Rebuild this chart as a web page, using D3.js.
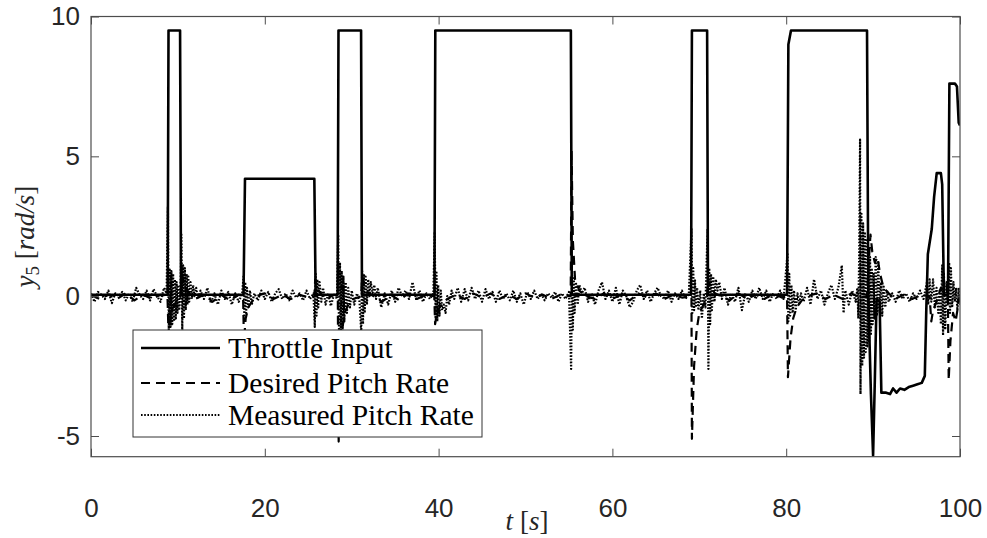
<!DOCTYPE html>
<html><head><meta charset="utf-8">
<script src="https://cdn.jsdelivr.net/npm/d3@7"></script>
<style>body{margin:0;background:#fff}svg{display:block}</style>
</head><body><svg id="c" width="987" height="538"></svg>
<script>
// [time s, value rad/s]
const throttleSeries = [[0,0.05],[8.82,0.05],[8.92,9.5],[10.25,9.5],[10.36,0.05],[17.55,0.05],[17.72,4.2],[25.7,4.2],[25.85,0.05],[28.38,0.05],[28.48,9.5],[31.08,9.5],[31.18,0.05],[39.52,0.05],[39.62,9.5],[55.22,9.5],[55.33,0.05],[69.05,0.05],[69.15,9.5],[70.9,9.5],[71.0,0.05],[80.1,0.05],[80.25,9.0],[80.55,9.5],[89.3,9.5],[89.45,0.0],[89.75,-3.5],[90.0,-5.7],[90.2,-3.0],[90.4,-0.1],[90.75,-0.2],[90.95,-3.45],[91.5,-3.45],[91.95,-3.5],[92.3,-3.3],[92.7,-3.45],[93.1,-3.3],[93.6,-3.35],[94.1,-3.25],[94.6,-3.2],[95.1,-3.15],[95.6,-3.1],[95.95,-2.85],[96.12,-0.5],[96.3,1.5],[96.75,2.4],[97.02,3.55],[97.32,4.4],[97.8,4.4],[97.95,4.0],[98.15,0.05],[98.62,0.05],[98.78,7.6],[99.42,7.6],[99.65,7.5],[99.85,6.2],[100,6.1]];

const desiredSeries = [[0,0.05],[1,-0.1],[2,0.05],[3,-0.1],[4,0.1],[5,-0.15],[6,0.05],[7,-0.1],[8,0.05],[8.8,0],[8.9,-1.1],[9.1,-0.9],[9.3,-0.5],[9.6,-0.3],[10.0,-0.15],[10.3,0],[10.4,0.9],[10.6,0.6],[10.9,0.3],[11.3,0.1],[12,-0.1],[13,0.05],[14,-0.2],[15,0.05],[16,-0.15],[17,0.05],[17.5,0],[17.6,-1.6],[17.8,-0.8],[18.1,-0.4],[18.5,-0.2],[19,0],[20,0.1],[21,-0.1],[22,0.05],[23,-0.1],[24,0.05],[25,-0.05],[25.7,0],[25.8,0.6],[26.0,0.3],[26.4,0.1],[27,-0.1],[28,0.05],[28.4,0],[28.5,-5.2],[28.7,-2.5],[28.9,-1.2],[29.2,-0.6],[29.6,-0.3],[30.2,-0.1],[31.1,0],[31.2,0.7],[31.4,0.4],[31.8,0.15],[32.5,0],[33.5,-0.2],[34.5,0.05],[35.5,-0.15],[36.5,0.1],[37.5,-0.1],[38.5,0.05],[39.5,0],[39.6,-1.0],[39.8,-0.6],[40.1,-0.4],[40.5,-0.25],[41,-0.1],[42,0.05],[43,-0.1],[44,0.1],[45,-0.05],[46,0.1],[47,-0.1],[48,0.05],[49,-0.1],[50,0.1],[51,-0.05],[52,0.05],[53,-0.1],[54,0.05],[55.2,0],[55.3,5.2],[55.45,2.0],[55.7,0.6],[56.2,0.2],[57,0],[58,-0.1],[59,0.1],[60,-0.1],[61,0.05],[62,-0.15],[63,0.1],[64,-0.05],[65,0.1],[66,-0.1],[67,0.05],[68,-0.05],[69.1,0],[69.15,-5.1],[69.4,-2.5],[69.7,-1.2],[70.0,-0.6],[70.5,-0.3],[70.9,0],[71.0,0.6],[71.3,0.3],[71.8,0.1],[72.5,0],[73.5,-0.15],[74.5,0.1],[75.5,-0.1],[76.5,0.05],[77.5,-0.1],[78.5,0.1],[79.5,-0.05],[80.1,0],[80.2,-2.9],[80.5,-1.5],[80.8,-0.8],[81.2,-0.4],[81.8,-0.15],[82.5,0],[83.5,0.1],[84.5,-0.1],[85.5,0.05],[86.5,-0.1],[87.5,0.1],[88.5,-0.05],[89.3,0],[89.45,1.0],[89.7,2.2],[89.9,1.6],[90.2,1.2],[90.5,1.4],[90.8,0.8],[91.2,0.3],[91.8,0.1],[92.5,-0.1],[93.5,0.05],[94.5,-0.1],[95.5,0.05],[96.5,0],[96.7,-0.9],[96.9,-0.5],[97.3,-0.2],[97.8,0.3],[98.2,0.1],[98.6,0],[98.7,-3.0],[98.9,-1.6],[99.2,-0.6],[99.5,-0.9],[99.8,-0.3],[100,0.1]];

const measuredSeries = [[0,0.1],[0.4,-0.2],[0.8,0.15],[1.2,0.05],[1.6,-0.1],[2.0,0.2],[2.4,-0.25],[2.8,0.1],[3.2,0],[3.6,0.15],[4.0,-0.15],[4.4,0.1],[4.8,-0.2],[5.2,0.3],[5.6,0.05],[6.0,-0.1],[6.4,0.2],[6.8,-0.15],[7.2,0.25],[7.6,0],[8.0,-0.2],[8.4,0.3],
[8.7,0.1],[8.85,3.2],[8.95,-1.2],[9.05,1.0],[9.15,-1.1],[9.25,0.9],[9.35,-1.0],[9.45,0.8],[9.55,-0.9],[9.65,0.6],[9.75,-0.8],[9.85,0.5],[9.95,-0.6],[10.05,0.4],[10.15,-0.5],[10.3,0.3],[10.4,2.2],[10.5,-1.2],[10.6,1.1],[10.7,-0.8],[10.8,1.0],[10.9,-0.5],[11.0,0.8],[11.1,-0.3],[11.2,0.7],[11.3,-0.2],[11.45,0.5],[11.6,-0.1],[11.75,0.4],[11.9,0],[12.1,0.3],[12.3,-0.1],
[12.6,0.2],[13.0,-0.1],[13.4,0.3],[13.8,-0.25],[14.2,0.1],[14.6,-0.3],[15.0,0.2],[15.4,-0.1],[15.8,0.15],[16.2,-0.3],[16.6,0.1],[17.0,-0.2],[17.4,0.1],
[17.55,0.7],[17.65,-0.8],[17.75,0.5],[17.85,-0.6],[17.95,0.3],[18.1,-0.4],[18.3,0.2],[18.5,-0.3],[18.8,0.1],
[19.2,-0.15],[19.6,0.2],[20.0,-0.1],[20.4,0.15],[20.8,-0.2],[21.2,0.1],[21.6,0.25],[22.0,-0.1],[22.4,0.1],[22.8,-0.15],[23.2,0.2],[23.6,-0.05],[24.0,0.1],[24.4,-0.15],[24.8,0.2],[25.2,-0.1],[25.6,0.1],
[25.75,-1.1],[25.85,0.8],[25.95,-0.7],[26.05,0.6],[26.15,-0.4],[26.3,0.5],[26.5,-0.2],[26.7,0.3],[27.0,-0.3],[27.3,0.1],[27.6,-0.35],[28.0,0.1],[28.3,-0.1],
[28.45,2.2],[28.55,-1.8],[28.65,1.2],[28.75,-1.5],[28.85,0.9],[28.95,-1.2],[29.05,0.7],[29.15,-0.9],[29.3,0.5],[29.45,-0.6],[29.6,0.3],[29.8,-0.4],[30.0,0.2],[30.3,-0.3],[30.6,0.1],[30.9,-0.2],
[31.1,-1.3],[31.2,0.9],[31.3,-1.0],[31.4,0.8],[31.5,-0.6],[31.6,0.7],[31.75,-0.3],[31.9,0.6],[32.05,0],[32.2,0.5],[32.4,0.1],[32.6,0.4],[32.8,-0.1],[33.0,0.3],
[33.4,-0.4],[33.8,0.1],[34.2,-0.3],[34.6,0.2],[35.0,-0.2],[35.4,0.3],[35.8,0],[36.2,0.2],[36.6,-0.1],[37.0,0.5],[37.4,-0.1],[37.8,0.2],[38.2,-0.2],[38.6,0.1],[39.0,-0.1],[39.4,0.1],
[39.55,2.3],[39.65,-0.8],[39.75,0.9],[39.85,-0.9],[39.95,0.4],[40.1,-0.7],[40.25,0.2],[40.4,-0.5],[40.6,-0.3],[40.8,-0.6],[41.0,0],[41.2,-0.3],[41.5,0.2],[41.8,-0.1],
[42.2,0.3],[42.6,-0.2],[43.0,0.25],[43.4,-0.15],[43.8,0.3],[44.2,-0.1],[44.6,0.2],[45.0,-0.2],[45.4,0.25],[45.8,-0.1],[46.2,0.15],[46.6,-0.2],[47.0,0.2],[47.4,-0.1],[47.8,0.1],[48.2,-0.15],[48.6,0.2],[49.0,-0.2],[49.4,0.1],[49.8,-0.3],[50.2,0.15],[50.6,-0.1],[51.0,0.2],[51.4,-0.1],[51.8,0.1],[52.2,-0.15],[52.6,0.1],[53.0,-0.05],[53.4,0.15],[53.8,-0.2],[54.2,0.1],[54.6,-0.1],[55.0,0.15],
[55.25,-2.6],[55.35,0.9],[55.45,-1.2],[55.55,0.7],[55.65,-0.6],[55.8,0.5],[56.0,-0.3],[56.2,0.4],[56.5,0.1],[56.8,0.3],
[57.2,-0.2],[57.6,0.1],[58.0,-0.3],[58.4,0.2],[58.8,0.5],[59.2,-0.1],[59.6,0.2],[60.0,-0.2],[60.4,0.3],[60.8,-0.3],[61.2,0.2],[61.6,0],[62.0,-0.4],[62.4,-0.2],[62.8,0.2],[63.2,0.4],[63.6,-0.1],[64.0,0.2],[64.4,-0.2],[64.8,0.1],[65.2,0.3],[65.6,0],[66.0,-0.1],[66.4,0.2],[66.8,-0.2],[67.2,0.1],[67.6,-0.1],[68.0,0.2],[68.4,-0.1],[68.8,0.1],
[69.1,2.4],[69.2,-0.6],[69.3,1.0],[69.4,-0.5],[69.5,0.6],[69.6,-0.4],[69.75,0.3],[69.9,-0.5],[70.1,0.2],[70.3,-0.8],[70.5,0.1],[70.7,-0.4],
[70.95,2.4],[71.05,-2.6],[71.15,1.0],[71.25,-1.0],[71.35,0.8],[71.45,-0.5],[71.6,0.7],[71.75,-0.2],[71.9,0.6],[72.1,0.2],[72.3,0.5],[72.6,-0.1],[72.9,0.3],
[73.3,-0.3],[73.7,0.1],[74.1,-0.2],[74.5,0.3],[74.9,-0.5],[75.3,0.1],[75.7,-0.2],[76.1,0.2],[76.5,-0.1],[76.9,0.3],[77.3,-0.1],[77.7,0.2],[78.1,-0.2],[78.5,0.1],[78.9,-0.1],[79.3,0.2],[79.7,-0.1],
[80.15,1.5],[80.25,-0.9],[80.35,0.8],[80.45,-0.7],[80.6,0.4],[80.75,-0.6],[80.9,0.2],[81.1,-0.5],[81.3,0.1],[81.5,-0.3],[81.7,0.1],
[82.0,-0.2],[82.4,0.3],[82.8,-0.3],[83.2,0.6],[83.6,-0.1],[84.0,0.2],[84.4,-0.3],[84.8,0.1],[85.2,0.4],[85.6,-0.1],[86.0,0.3],[86.4,1.1],[86.6,-0.6],[86.8,0.2],[87.2,-0.3],[87.6,0.2],[88.0,-0.2],
[88.2,0.3],[88.3,-0.8],[88.4,1.5],[88.5,5.6],[88.55,-3.5],[88.65,3.0],[88.75,-2.5],[88.85,2.6],[88.95,-2.2],[89.05,2.3],[89.15,-2.0],[89.25,2.0],[89.35,-1.8],[89.45,1.6],[89.55,-1.6],[89.65,1.4],[89.75,-1.4],[89.85,1.0],[89.95,-1.0],[90.05,0.8],[90.15,-0.8],[90.3,1.4],[90.45,-0.7],[90.6,1.2],[90.75,-0.6],[90.9,0.5],[91.05,-0.7],[91.2,0.4],[91.4,-0.4],[91.6,0.2],[91.8,-0.2],
[92.2,0.1],[92.6,-0.2],[93.0,0.2],[93.4,-0.1],[93.8,0.1],[94.2,-0.2],[94.6,0.1],[95.0,-0.1],[95.4,0.2],[95.8,-0.1],
[96.2,0.5],[96.35,-0.3],[96.5,0.6],[96.7,-0.2],[96.9,0.6],[97.1,-0.4],[97.3,0.3],[97.5,-0.6],[97.65,0.2],[97.8,-1.0],[97.95,1.1],[98.05,-1.4],[98.15,0.8],[98.3,-1.2],[98.45,0.5],[98.6,-0.3],[98.75,1.2],[98.85,-0.6],[98.95,1.0],[99.1,-0.4],[99.25,0.5],[99.4,-0.2],[99.55,0.3],[99.7,-0.5],[99.85,0.3],[100,-0.3]];

const xTicks = [0, 20, 40, 60, 80, 100];
const yTicks = [-5, 0, 5, 10];
const xDomain = [0, 100];
const yDomain = [-5.74, 10];
const legendLabels = ["Throttle Input", "Desired Pitch Rate", "Measured Pitch Rate"];

const svg = d3.select("#c");
const L = 91, R = 960, T = 16.5, B = 456.7;
const x = d3.scaleLinear().domain(xDomain).range([L, R]);
const y = d3.scaleLinear().domain(yDomain).range([B, T]);
const axisColor = "#4d4d4d";
const tickFont = "'Liberation Sans', Arial, sans-serif";
const serif = "'Liberation Serif', 'Times New Roman', serif";

svg.append("rect").attr("width", 987).attr("height", 538).attr("fill", "#fff");
svg.append("defs").append("clipPath").attr("id", "clip")
  .append("rect").attr("x", L).attr("y", T).attr("width", R - L).attr("height", B - T);

const styles = [
  {dash: null, width: 2.6},
  {dash: "9,6", width: 2.2},
  {dash: "1.6,1.6", width: 2.2}
];
const seriesList = [throttleSeries, desiredSeries, measuredSeries];
const line = d3.line().x(d => x(d[0])).y(d => y(d[1]));
const gLines = svg.append("g").attr("clip-path", "url(#clip)");
seriesList.forEach((s, i) => {
  gLines.append("path").datum(s).attr("d", line)
    .attr("fill", "none").attr("stroke", "#000")
    .attr("stroke-width", styles[i].width)
    .attr("stroke-linejoin", "round")
    .attr("stroke-dasharray", styles[i].dash);
});

function styleAxis(g) {
  g.select(".domain").remove();
  g.selectAll("line").attr("stroke", axisColor).attr("stroke-width", 1);
  g.selectAll("text").attr("fill", "#262626").style("font-family", tickFont).style("font-size", "26px");
}
svg.append("g").attr("transform", `translate(0,${B})`)
  .call(d3.axisBottom(x).tickValues(xTicks).tickSize(-8).tickPadding(42).tickFormat(d3.format("d")))
  .call(styleAxis);
svg.append("g").attr("transform", `translate(0,${T})`)
  .call(d3.axisTop(x).tickValues(xTicks).tickSize(-8).tickFormat(""))
  .call(styleAxis);
svg.append("g").attr("transform", `translate(${L},0)`)
  .call(d3.axisLeft(y).tickValues(yTicks).tickSize(-8).tickPadding(11).tickFormat(d => String(d)))
  .call(styleAxis);
svg.append("g").attr("transform", `translate(${R},0)`)
  .call(d3.axisRight(y).tickValues(yTicks).tickSize(-8).tickFormat(""))
  .call(styleAxis);

svg.append("rect").attr("x", L).attr("y", T).attr("width", R - L).attr("height", B - T)
  .attr("fill", "none").attr("stroke", axisColor).attr("stroke-width", 1.2);

// legend
const lg = svg.append("g");
lg.append("rect").attr("x", 133).attr("y", 330).attr("width", 349).attr("height", 107)
  .attr("fill", "#fff").attr("stroke", "#333").attr("stroke-width", 1);
const legY = [348, 383, 415];
legendLabels.forEach((lab, i) => {
  lg.append("line").attr("x1", 141).attr("x2", 220).attr("y1", legY[i]).attr("y2", legY[i])
    .attr("stroke", "#000").attr("stroke-width", styles[i].width)
    .attr("stroke-dasharray", styles[i].dash);
  lg.append("text").attr("x", 228).attr("y", legY[i]).attr("dy", "0.35em")
    .style("font-family", serif).style("font-size", "29.5px").attr("fill", "#000").text(lab);
});

// axis labels
const xl = svg.append("text").attr("x", 527).attr("y", 530).attr("text-anchor", "middle")
  .style("font-family", serif).style("font-size", "27px").attr("fill", "#262626");
xl.append("tspan").style("font-style", "italic").text("t");
xl.append("tspan").text(" [");
xl.append("tspan").style("font-style", "italic").text("s");
xl.append("tspan").text("]");

const yl = svg.append("text").attr("transform", `translate(34,${(T + B) / 2}) rotate(-90)`)
  .attr("text-anchor", "middle")
  .style("font-family", serif).style("font-size", "27px").attr("fill", "#262626");
yl.append("tspan").style("font-style", "italic").text("y");
yl.append("tspan").attr("dy", 5).style("font-size", "19px").text("5");
yl.append("tspan").attr("dy", -5).text(" [");
yl.append("tspan").style("font-style", "italic").text("rad/s");
yl.append("tspan").text("]");
</script></body></html>
